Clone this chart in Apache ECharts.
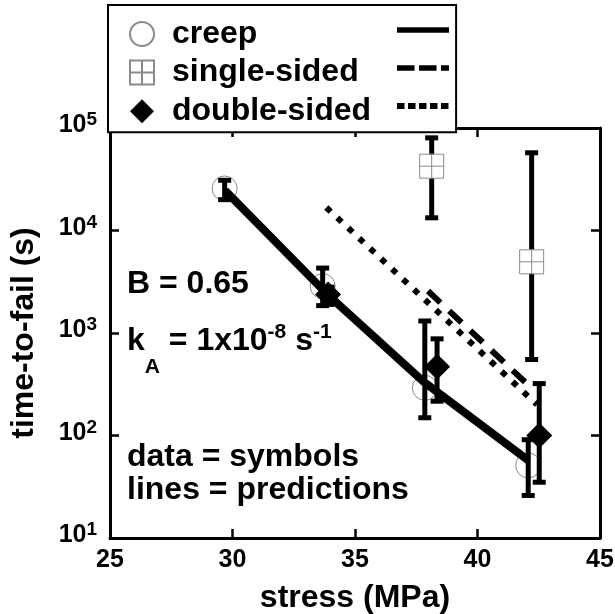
<!DOCTYPE html>
<html>
<head>
<meta charset="utf-8">
<script src="https://cdn.jsdelivr.net/npm/echarts@6/dist/echarts.min.js"></script>
<style>html,body{margin:0;padding:0;background:#fff}#c{width:615px;height:614px}</style>
</head>
<body>
<div id="c"></div>
<script>
// ---- data ----
const stressCreep = [29.68, 33.68, 37.85, 42.07];
const timeCreep = [25700, 2865, 292, 51];
const creepErrLow = [20000, 1850, 149, 26];
const creepErrHigh = [30900, 4300, 1310, 91];

const stressSingle = [38.13, 42.21];
const timeSingle = [42400, 4950];
const singleErrLow = [13300, 551];
const singleErrHigh = [80200, 57300];

const stressDouble = [33.9, 38.35, 42.52];
const timeDouble = [2377, 468, 100];
const doubleErrLow = [1900, 216, 35];
const doubleErrHigh = [2800, 877, 321];

const predCreepX = [29.7, 33.9, 37.8, 42.08];
const predCreepY = [24500, 2350, 335, 57];
const predSingleX = [37.98, 42.27];
const predSingleY = [2570, 281];
const predDoubleX = [33.83, 42.43];
const predDoubleY = [16750, 200];

const seriesNames = ['creep', 'single-sided', 'double-sided'];
const xTickValues = [25, 30, 35, 40, 45];
const notes = ['B = 0.65', 'data = symbols', 'lines = predictions'];

// ---- helpers ----
const FF = '"Liberation Sans", Arial, Helvetica, sans-serif';
const zip = (a, b) => a.map((v, i) => [v, b[i]]);
const zip3 = (a, b, c) => a.map((v, i) => [v, b[i], c[i]]);
const GRAY = '#8a8a8a';

function errRender(params, api) {
  const x = api.value(0), lo = api.value(1), hi = api.value(2);
  const p1 = api.coord([x, hi]);
  const p2 = api.coord([x, lo]);
  const w = 6.5;
  const st = { stroke: '#000', lineWidth: 5 };
  return {
    type: 'group',
    children: [
      { type: 'line', shape: { x1: p1[0], y1: p1[1], x2: p2[0], y2: p2[1] }, style: st },
      { type: 'line', shape: { x1: p1[0] - w, y1: p1[1], x2: p1[0] + w, y2: p1[1] }, style: st },
      { type: 'line', shape: { x1: p2[0] - w, y1: p2[1], x2: p2[0] + w, y2: p2[1] }, style: st }
    ]
  };
}

const squareCross = 'path://M0,0L24,0L24,24L0,24Z M12,0L12,24 M0,12L24,12';
const diamondPath = 'path://M12,0L24,12L12,24L0,12Z';

const chart = echarts.init(document.getElementById('c'), null, { renderer: 'canvas' });
const axisCommon = {
  axisLine: { show: true, lineStyle: { color: '#000', width: 3 } },
  axisTick: { show: true, inside: true, length: 9, lineStyle: { color: '#000', width: 2.5 } },
  splitLine: { show: false }
};
const hideSym = { opacity: 0, borderWidth: 0 };
chart.setOption({
  animation: false,
  backgroundColor: '#fff',
  grid: { left: 110, right: 15, top: 128, bottom: 76, containLabel: false, outerBoundsMode: 'none' },
  xAxis: [
    Object.assign({
      type: 'value', min: 25, max: 45, interval: 5, position: 'bottom',
      name: 'stress (MPa)', nameLocation: 'middle', nameGap: 44,
      nameTextStyle: { fontSize: 32, fontWeight: 'bold', fontFamily: FF, color: '#000' },
      axisLabel: { fontSize: 25, fontWeight: 'bold', fontFamily: FF, color: '#000', margin: 10,
        formatter: v => xTickValues.includes(v) ? String(v) : '' }
    }, axisCommon),
    Object.assign({
      type: 'value', min: 25, max: 45, interval: 5, position: 'top',
      axisLabel: { show: false }
    }, axisCommon)
  ],
  yAxis: [
    Object.assign({
      type: 'log', logBase: 10, min: 10, max: 100000, position: 'left',
      name: 'time-to-fail (s)', nameLocation: 'middle', nameGap: 70,
      nameTextStyle: { fontSize: 32, fontWeight: 'bold', fontFamily: FF, color: '#000' },
      axisLabel: {
        margin: 13,
        padding: [0, 0, 10, 0],
        formatter: v => '{b|10}{s|' + Math.round(Math.log10(v)) + '}',
        rich: {
          b: { fontSize: 25, fontWeight: 'bold', fontFamily: FF, color: '#000', lineHeight: 25, padding: [5, 0, 0, 0] },
          s: { fontSize: 19, fontWeight: 'bold', fontFamily: FF, color: '#000', lineHeight: 19, verticalAlign: 'top' }
        }
      }
    }, axisCommon),
    Object.assign({
      type: 'log', logBase: 10, min: 10, max: 100000, position: 'right',
      axisLabel: { show: false }
    }, axisCommon)
  ],
  legend: [
    {
      orient: 'vertical', left: 108, top: 5,
      padding: [13, 85, 5, 21],
      itemWidth: 50, itemHeight: 24, itemGap: 6.6,
      backgroundColor: '#fff', borderColor: '#000', borderWidth: 2, borderRadius: 0,
      selectedMode: false, z: 4,
      textStyle: { fontSize: 32, fontWeight: 'bold', fontFamily: FF, color: '#000' },
      data: seriesNames
    },
    {
      orient: 'vertical', left: 394, top: 20.4, padding: 0,
      itemWidth: 52, itemHeight: 24, itemGap: 18.8,
      selectedMode: false, z: 5,
      formatter: () => '',
      textStyle: { fontSize: 1, lineHeight: 1 },
      data: [
        { name: 'creep prediction', itemStyle: hideSym, lineStyle: { width: 5.5, type: 'solid', color: '#000' } },
        { name: 'single-sided prediction', itemStyle: hideSym, lineStyle: { width: 5.5, type: [17.5, 4.5], color: '#000' } },
        { name: 'double-sided prediction', itemStyle: hideSym, lineStyle: { width: 6, type: [7.5, 3.5], color: '#000' } }
      ]
    }
  ],
  graphic: [
    { type: 'text', x: 127, y: 284, z: 10, style: { text: notes[0], fontSize: 32, fontWeight: 'bold', fontFamily: FF, fill: '#000', verticalAlign: 'middle' } },
    { type: 'text', x: 127, y: 341, z: 10, style: {
        text: '{n|k}{sub|A}{n| = 1x10}{sup|-8}{n| s}{sup|-1}',
        verticalAlign: 'middle', fill: '#000',
        rich: {
          n: { fontSize: 32, fontWeight: 'bold', fontFamily: FF, fill: '#000', lineHeight: 32 },
          sub: { fontSize: 21, fontWeight: 'bold', fontFamily: FF, fill: '#000', lineHeight: 21, padding: [53, 0, 0, 0] },
          sup: { fontSize: 21, fontWeight: 'bold', fontFamily: FF, fill: '#000', lineHeight: 21, padding: [0, 0, 17, 0] }
        }
      } },
    { type: 'text', x: 127, y: 457, z: 10, style: { text: notes[1], fontSize: 32, fontWeight: 'bold', fontFamily: FF, fill: '#000', verticalAlign: 'middle' } },
    { type: 'text', x: 127, y: 490, z: 10, style: { text: notes[2], fontSize: 32, fontWeight: 'bold', fontFamily: FF, fill: '#000', verticalAlign: 'middle' } }
  ],
  series: [
    { name: 'creep prediction', type: 'line', data: zip(predCreepX, predCreepY), symbol: 'none', showSymbol: false,
      lineStyle: { color: '#000', width: 8, type: 'solid' }, itemStyle: { color: '#000' }, z: 3 },
    { name: 'single-sided prediction', type: 'line', data: zip(predSingleX, predSingleY), symbol: 'none', showSymbol: false,
      lineStyle: { color: '#000', width: 6, type: [17, 12] }, itemStyle: { color: '#000' }, z: 3 },
    { name: 'double-sided prediction', type: 'line', data: zip(predDoubleX, predDoubleY), symbol: 'none', showSymbol: false,
      lineStyle: { color: '#000', width: 6, type: [6, 9] }, itemStyle: { color: '#000' }, z: 3 },
    { name: 'creep', type: 'scatter', data: zip(stressCreep, timeCreep), symbol: 'circle', symbolSize: 25,
      itemStyle: { color: 'rgba(255,255,255,0)', borderColor: GRAY, borderWidth: 1, opacity: 1 }, z: 2 },
    { name: 'single-sided', type: 'scatter', data: zip(stressSingle, timeSingle), symbol: squareCross, symbolSize: 24,
      itemStyle: { color: '#fff', borderColor: GRAY, borderWidth: 1, opacity: 1 }, z: 5 },
    { name: 'creep error', type: 'custom', renderItem: errRender, data: zip3(stressCreep, creepErrLow, creepErrHigh),
      encode: { x: 0, y: [1, 2] }, z: 4 },
    { name: 'single-sided error', type: 'custom', renderItem: errRender, data: zip3(stressSingle, singleErrLow, singleErrHigh),
      encode: { x: 0, y: [1, 2] }, z: 4 },
    { name: 'double-sided error', type: 'custom', renderItem: errRender, data: zip3(stressDouble, doubleErrLow, doubleErrHigh),
      encode: { x: 0, y: [1, 2] }, z: 4 },
    { name: 'double-sided', type: 'scatter', data: zip(stressDouble, timeDouble), symbol: diamondPath, symbolSize: 26,
      itemStyle: { color: '#000', opacity: 1 }, z: 6 }
  ]
});
</script>
</body>
</html>
